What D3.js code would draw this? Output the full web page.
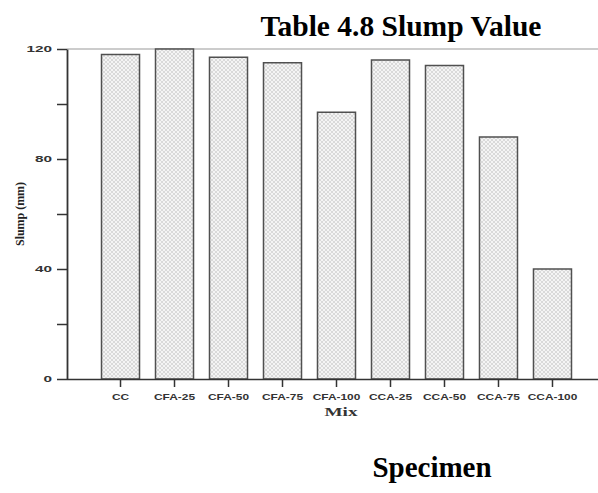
<!DOCTYPE html>
<html>
<head>
<meta charset="utf-8">
<script src="https://cdn.jsdelivr.net/npm/d3@7"></script>
<style>
  html, body { margin: 0; padding: 0; background: #fff; }
  svg { display: block; }
</style>
</head>
<body>
<svg id="chart" width="598" height="493"></svg>
<script>
// ---- data ----
const categories = ["CC", "CFA-25", "CFA-50", "CFA-75", "CFA-100", "CCA-25", "CCA-50", "CCA-75", "CCA-100"];
const slumpValues = [118, 120, 117, 115, 97, 116, 114, 88, 40];
const yMajorTicks = [0, 40, 80, 120];
const yMinorTicks = [20, 60, 100];
const titleText = "Table 4.8 Slump Value";
const xAxisTitle = "Mix";
const yAxisTitle = "Slump (mm)";
const footerText = "Specimen";

(function () {
const svg = d3.select("#chart");

// pattern fill
const defs = svg.append("defs");
const pat = defs.append("pattern")
  .attr("id", "hatch").attr("patternUnits", "userSpaceOnUse")
  .attr("width", 4).attr("height", 4);
pat.append("rect").attr("width", 4).attr("height", 4).attr("fill", "#f4f4f4");
pat.append("path").attr("d", "M0,0 L4,4 M4,0 L0,4")
  .attr("stroke", "#d2d2d2").attr("stroke-width", 0.8);

const mLeft = 67, mBottom = 379, mTop = 49, mRight = 598;

const x = d3.scaleBand()
  .domain(categories)
  .range([mLeft, 606])
  .paddingInner(0.296)
  .paddingOuter(0.639);

const y = d3.scaleLinear().domain([0, 120]).range([mBottom, mTop]);

// top frame line
svg.append("line")
  .attr("x1", mLeft).attr("x2", mRight)
  .attr("y1", y(120)).attr("y2", y(120))
  .attr("stroke", "#9a9a9a").attr("stroke-width", 1.2);

// bars
svg.append("g").selectAll("rect")
  .data(categories.map((c, i) => ({ c, v: slumpValues[i] })))
  .join("rect")
  .attr("x", d => x(d.c))
  .attr("width", x.bandwidth())
  .attr("y", d => y(d.v))
  .attr("height", d => y(0) - y(d.v))
  .attr("fill", "url(#hatch)")
  .attr("stroke", "#505050")
  .attr("stroke-width", 1.5);

// x axis
const gx = svg.append("g")
  .attr("transform", `translate(0,${mBottom})`)
  .call(d3.axisBottom(x).tickSize(8).tickSizeOuter(0).tickPadding(7));
gx.select(".domain").attr("d", `M${mLeft},0.5H${mRight}`).attr("stroke", "#333").attr("stroke-width", 1.5);
gx.selectAll(".tick line").attr("stroke", "#333").attr("stroke-width", 1.5);
gx.selectAll(".tick text")
  .attr("font-family", "Liberation Sans, Arial, sans-serif")
  .attr("font-weight", "bold")
  .attr("font-size", 8.5)
  .attr("fill", "#333")
  .each(function () {
    const w = this.getComputedTextLength();
    d3.select(this).attr("textLength", w * 1.4).attr("lengthAdjust", "spacingAndGlyphs");
  });

// y axis
const gyMinor = svg.append("g")
  .attr("transform", `translate(${mLeft},0)`)
  .call(d3.axisLeft(y).tickValues(yMinorTicks).tickSize(10).tickSizeOuter(0).tickFormat(""));
gyMinor.select(".domain").remove();
gyMinor.selectAll(".tick line").attr("stroke", "#333").attr("stroke-width", 1.5);

const gy = svg.append("g")
  .attr("transform", `translate(${mLeft},0)`)
  .call(d3.axisLeft(y).tickValues(yMajorTicks).tickSize(10).tickSizeOuter(0).tickPadding(5));
gy.select(".domain").attr("stroke", "#333").attr("stroke-width", 1.8);
gy.selectAll(".tick line").attr("stroke", "#333").attr("stroke-width", 1.5);
gy.selectAll(".tick text")
  .attr("font-family", "Liberation Sans, Arial, sans-serif")
  .attr("font-weight", "bold")
  .attr("font-size", 9)
  .attr("fill", "#333")
  .each(function () {
    const w = this.getComputedTextLength();
    d3.select(this).attr("textLength", w * 1.7).attr("lengthAdjust", "spacingAndGlyphs");
  });

// axis titles
svg.append("text")
  .attr("x", 341).attr("y", 416)
  .attr("text-anchor", "middle")
  .attr("font-family", "Liberation Serif, Times New Roman, serif")
  .attr("font-weight", "bold")
  .attr("font-size", 12)
  .attr("fill", "#333")
  .attr("textLength", 33).attr("lengthAdjust", "spacingAndGlyphs")
  .text(xAxisTitle);

svg.append("text")
  .attr("transform", "translate(24,214) rotate(-90)")
  .attr("text-anchor", "middle")
  .attr("font-family", "Liberation Serif, Times New Roman, serif")
  .attr("font-weight", "bold")
  .attr("font-size", 12.5)
  .attr("fill", "#222")
  .attr("textLength", 64).attr("lengthAdjust", "spacingAndGlyphs")
  .text(yAxisTitle);

// title and footer
svg.append("text")
  .attr("x", 401).attr("y", 36)
  .attr("text-anchor", "middle")
  .attr("font-family", "Liberation Serif, Times New Roman, serif")
  .attr("font-weight", "bold")
  .attr("font-size", 29.5)
  .attr("fill", "#000")
  .text(titleText);

svg.append("text")
  .attr("x", 432).attr("y", 477)
  .attr("text-anchor", "middle")
  .attr("font-family", "Liberation Serif, Times New Roman, serif")
  .attr("font-weight", "bold")
  .attr("font-size", 29)
  .attr("fill", "#000")
  .text(footerText);
})();
</script>
</body>
</html>
